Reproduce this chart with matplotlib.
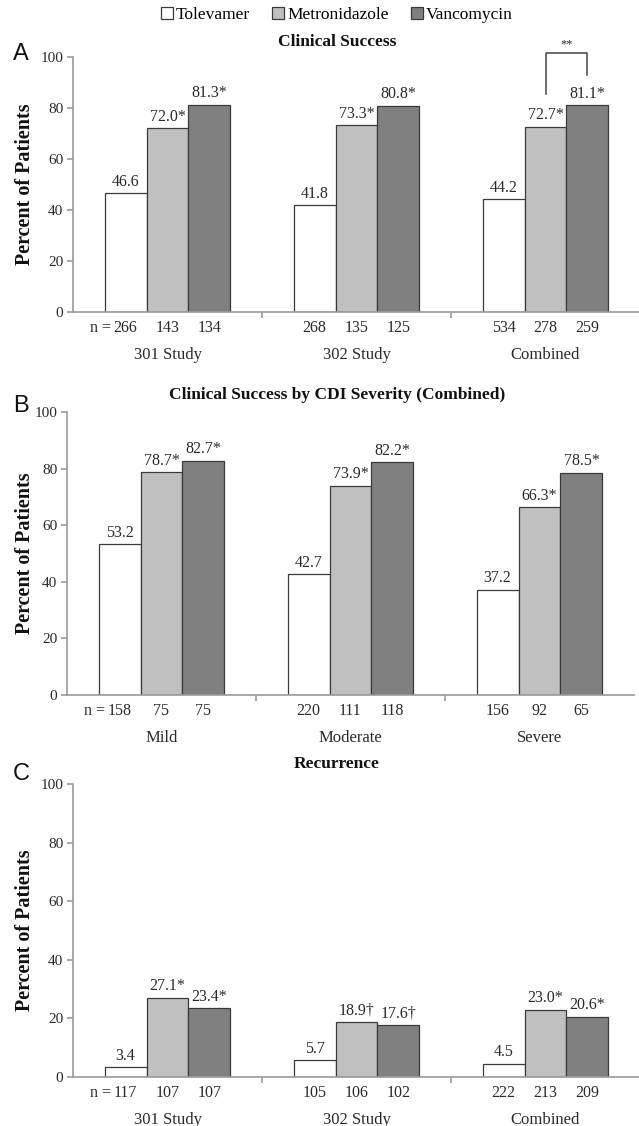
import matplotlib
matplotlib.use('Agg')
import matplotlib.pyplot as plt
from matplotlib.patches import Patch
import numpy as np

plt.rcParams['font.family'] = ['Liberation Serif', 'DejaVu Serif']

drugs = ['Tolevamer', 'Metronidazole', 'Vancomycin']
colors = ['#ffffff', '#c0c0c0', '#808080']
edge = '#3a3a3a'

# panel A: clinical success
groups_A = ['301 Study', '302 Study', 'Combined']
tol_A = [46.6, 41.8, 44.2]
met_A = [72.0, 73.3, 72.7]
van_A = [81.3, 80.8, 81.1]
n_tol_A = [266, 268, 534]
n_met_A = [143, 135, 278]
n_van_A = [134, 125, 259]
mark_met_A = ['*', '*', '*']
mark_van_A = ['*', '*', '*']

# panel B: clinical success by severity
groups_B = ['Mild', 'Moderate', 'Severe']
tol_B = [53.2, 42.7, 37.2]
met_B = [78.7, 73.9, 66.3]
van_B = [82.7, 82.2, 78.5]
n_tol_B = [158, 220, 156]
n_met_B = [75, 111, 92]
n_van_B = [75, 118, 65]
mark_met_B = ['*', '*', '*']
mark_van_B = ['*', '*', '*']

# panel C: recurrence
groups_C = ['301 Study', '302 Study', 'Combined']
tol_C = [3.4, 5.7, 4.5]
met_C = [27.1, 18.9, 23.0]
van_C = [23.4, 17.6, 20.6]
n_tol_C = [117, 105, 222]
n_met_C = [107, 106, 213]
n_van_C = [107, 102, 209]
mark_met_C = ['*', '\u2020', '*']
mark_van_C = ['*', '\u2020', '*']

W, H = 639, 1126
fig = plt.figure(figsize=(W/100, H/100), dpi=100)

def fx(px):
    return px / W

def fy(py):
    return 1 - py / H

bw = 0.222
tc = '#2a2a2a'
fs = 11.5

def panel(rect, groups, vals, ns, marks, title, letter, title_y, letter_y):
    ax = fig.add_axes(rect)
    x = np.arange(len(groups)) + 0.5
    for k in range(3):
        xs = x + (k - 1) * bw
        ax.bar(xs, vals[k], width=bw, color=colors[k], edgecolor=edge,
               linewidth=0.9, zorder=2)
        for i, v in enumerate(vals[k]):
            lab = '%.1f' % v + marks[k][i]
            ax.annotate(lab, (xs[i], v), xytext=(0, 2.5), textcoords='offset points',
                        ha='center', va='bottom', fontsize=fs, color=tc)
            ax.annotate(str(ns[k][i]), (xs[i], 0), xycoords=('data', 'axes fraction'),
                        xytext=(0, -11.5), textcoords='offset points',
                        ha='center', va='center', fontsize=fs, color=tc)
            if k == 0 and i == 0:
                ax.annotate('n =', (xs[i] - 0.075, 0), xycoords=('data', 'axes fraction'),
                            xytext=(0, -11.5), textcoords='offset points',
                            ha='right', va='center', fontsize=fs, color=tc)
    for i, g in enumerate(groups):
        ax.annotate(g, (x[i], 0), xycoords=('data', 'axes fraction'),
                    xytext=(0, -31), textcoords='offset points',
                    ha='center', va='center', fontsize=12, color=tc)
    ax.set_xlim(0, 3)
    ax.set_ylim(0, 100)
    ax.set_yticks([0, 20, 40, 60, 80, 100])
    ax.set_xticks([1, 2])
    ax.set_xticklabels([])
    for s in ['top', 'right']:
        ax.spines[s].set_visible(False)
    for s in ['left', 'bottom']:
        ax.spines[s].set_color('#9a9a9a')
        ax.spines[s].set_linewidth(1.2)
    ax.tick_params(axis='y', colors='#9a9a9a', labelcolor=tc, labelsize=11,
                   length=4, width=1.2, pad=3)
    ax.tick_params(axis='x', colors='#9a9a9a', length=4, width=1.2)
    b = rect[1]
    h = rect[3]
    fig.text(0.527, title_y, title, ha='center', va='center', fontsize=12.5,
             fontweight='bold', color='#111111')
    fig.text(fx(21), letter_y, letter, ha='center', va='center', fontsize=17,
             family='Liberation Sans', color='#111111')
    fig.text(fx(25), b + h / 2, 'Percent of Patients', rotation=90, ha='center',
             va='center', fontsize=14.5, fontweight='bold', color='#111111')
    return ax

rectA = [fx(73), fy(312), fx(567), fy(57) - fy(312)]
rectB = [fx(67), fy(695), fx(567), fy(412) - fy(695)]
rectC = [fx(73), fy(1077), fx(567), fy(784) - fy(1077)]

axA = panel(rectA, groups_A, [tol_A, met_A, van_A], [n_tol_A, n_met_A, n_van_A],
            [['', '', ''], mark_met_A, mark_van_A], 'Clinical Success', 'A', fy(42), fy(54))
axB = panel(rectB, groups_B, [tol_B, met_B, van_B], [n_tol_B, n_met_B, n_van_B],
            [['', '', ''], mark_met_B, mark_van_B],
            'Clinical Success by CDI Severity (Combined)', 'B', fy(395), fy(406))
axC = panel(rectC, groups_C, [tol_C, met_C, van_C], [n_tol_C, n_met_C, n_van_C],
            [['', '', ''], mark_met_C, mark_van_C], 'Recurrence', 'C', fy(764), fy(774))

# significance bracket, combined metronidazole vs vancomycin
xl = 2.5
xr = 2.5 + bw
axA.plot([xl, xl, xr, xr], [85.5, 101.5, 101.5, 93], color='#444444', lw=1.1,
         clip_on=False)
axA.text((xl + xr) / 2, 102.5, '**', ha='center', va='bottom', fontsize=9,
         color=tc, clip_on=False)

handles = [Patch(facecolor=colors[k], edgecolor=edge, linewidth=0.9) for k in range(3)]
fig.legend(handles, drugs, loc='center', bbox_to_anchor=(0.527, fy(15)), ncol=3,
           frameon=False, fontsize=12.5, handlelength=0.7, handleheight=0.7,
           handletextpad=0.15, columnspacing=1.3)

fig.savefig('out.png', dpi=100)
